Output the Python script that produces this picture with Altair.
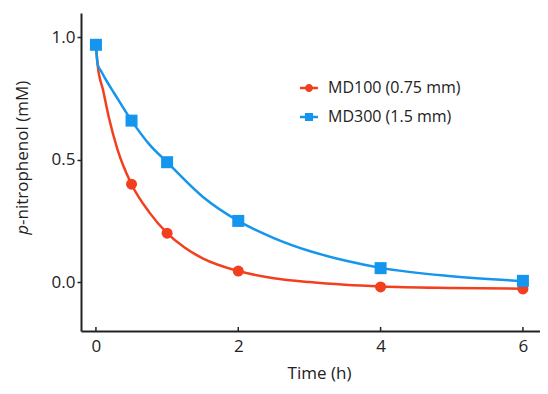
import altair as alt
import pandas as pd

# ---- data ----
series = ["MD100 (0.75 mm)", "MD300 (1.5 mm)"]
colors = ["#F2401E", "#1496EE"]

time_pts = [0, 0.5, 1, 2, 4, 6]
md100_pts = [0.97, 0.40, 0.20, 0.045, -0.02, -0.028]
md300_pts = [0.97, 0.66, 0.49, 0.25, 0.057, 0.005]

fit100_t = [0, 0.025, 0.1, 0.18, 0.3, 0.5, 0.75, 1, 1.25, 1.5, 2, 2.5, 3, 3.5, 4, 5, 6]
fit100_v = [0.97, 0.885, 0.785, 0.675, 0.545, 0.40, 0.285, 0.20, 0.14, 0.097, 0.045, 0.016, 0.0, -0.011, -0.018, -0.024, -0.027]
fit300_t = [0, 0.025, 0.07, 0.15, 0.25, 0.5, 0.75, 1, 1.5, 2, 2.5, 3, 3.5, 4, 5, 6]
fit300_v = [0.97, 0.889, 0.864, 0.822, 0.775, 0.66, 0.563, 0.49, 0.349, 0.25, 0.18, 0.127, 0.088, 0.058, 0.024, 0.004]

x_ticks = [0, 2, 4, 6]
y_ticks = [0.0, 0.5, 1.0]

FONT = "Open Sans"
INK = "#222222"

pts100 = pd.DataFrame({"t": time_pts, "v": md100_pts, "series": series[0]})
pts300 = pd.DataFrame({"t": time_pts, "v": md300_pts, "series": series[1]})
fit100 = pd.DataFrame({"t": fit100_t, "v": fit100_v, "series": series[0]})
fit300 = pd.DataFrame({"t": fit300_t, "v": fit300_v, "series": series[1]})
ticks_df = pd.DataFrame({"t": x_ticks})

xs = alt.Scale(domain=[-0.21, 6.24], nice=False, zero=False)
ys = alt.Scale(domain=[-0.2, 1.1], nice=False, zero=False)
xaxis = alt.Axis(values=x_ticks, format="d", title="Time (h)", ticks=False,
                 labelPadding=7, titleBaseline="alphabetic", titleY=47, titleX=238,
                 titleFontSize=17, titleFontWeight="normal")
yaxis = alt.Axis(values=y_ticks, format=".1f", title="", tickSize=4, labelPadding=2)

X = alt.X("t:Q", scale=xs, axis=xaxis)
Y = alt.Y("v:Q", scale=ys, axis=yaxis)

line100 = alt.Chart(fit100).mark_line(interpolate="monotone", strokeWidth=2.5, color=colors[0]).encode(x=X, y=Y)
line300 = alt.Chart(fit300).mark_line(interpolate="monotone", strokeWidth=2.5, color=colors[1]).encode(x=X, y=Y)
dots100 = alt.Chart(pts100).mark_point(shape="circle", filled=True, size=121, opacity=1, color=colors[0]).encode(x=X, y=Y)
dots300 = alt.Chart(pts300).mark_point(shape="square", filled=True, size=144, opacity=1, color=colors[1]).encode(x=X, y=Y)

xticks = alt.Chart(ticks_df).mark_rule(color=INK, strokeWidth=1.5).encode(
    x=X, y=alt.value(314), y2=alt.value(318))

circle_leg = "M-1,-0.13H1V0.13H-1Z M-0.45,0A0.45,0.45 0 1,1 0.45,0A0.45,0.45 0 1,1 -0.45,0Z"
square_leg = "M-1,-0.13H1V0.13H-1Z M-0.45,-0.45H0.45V0.45H-0.45Z"

leg_df = pd.concat([pts100, pts300])
legend = alt.Chart(leg_df).transform_filter("false").mark_point(filled=True, opacity=1).encode(
    color=alt.Color("series:N", title="", scale=alt.Scale(domain=series, range=colors),
                    legend=alt.Legend(orient="none", legendX=219, legendY=66, symbolSize=324,
                                      symbolStrokeWidth=0, labelFontSize=16, labelFont=FONT,
                                      labelColor=INK, rowPadding=12, labelOffset=10)),
    shape=alt.Shape("series:N", title="", scale=alt.Scale(domain=series, range=[circle_leg, square_leg])),
)

ytitle_p = alt.Chart(pd.DataFrame({"txt": ["p"]})).mark_text(
    angle=270, align="right", baseline="middle", fontStyle="italic", fontSize=17, font=FONT, color=INK
).encode(x=alt.value(-58), y=alt.value(212), text="txt:N")
ytitle_rest = alt.Chart(pd.DataFrame({"txt": ["-nitrophenol (mM)"]})).mark_text(
    angle=270, align="left", baseline="middle", fontSize=17, font=FONT, color=INK
).encode(x=alt.value(-58), y=alt.value(212), text="txt:N")

chart = alt.layer(
    xticks, line100, line300, dots100, dots300, legend, ytitle_p, ytitle_rest
).properties(
    width=459, height=318,
    autosize=alt.AutoSizeParams(type="none"),
    padding={"left": 73, "top": 5, "right": 0, "bottom": 55},
).configure_view(stroke=None).configure_axis(
    grid=False, domainColor=INK, domainWidth=2, tickColor=INK, tickWidth=1.5,
    labelFont=FONT, labelFontSize=17, labelColor=INK, titleFont=FONT, titleColor=INK,
)

chart.save("out.html", embed_options={"renderer": "svg", "actions": False})
